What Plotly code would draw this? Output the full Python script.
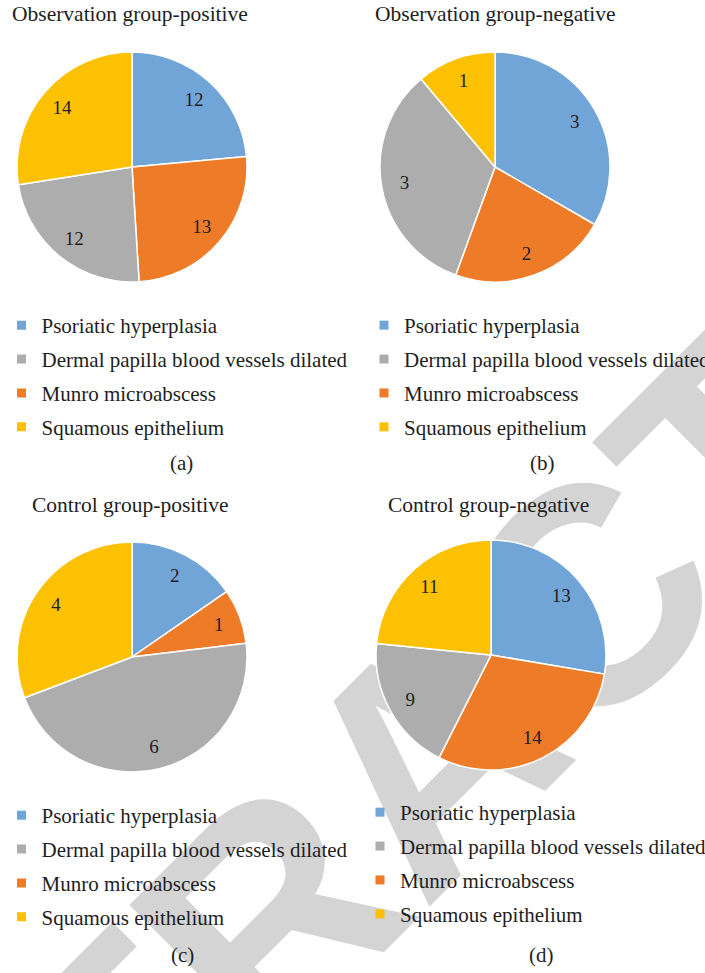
import base64
import plotly.graph_objects as go

# ---------------- data ----------------
slice_order = ["Psoriatic hyperplasia", "Munro microabscess",
               "Dermal papilla blood vessels dilated", "Squamous epithelium"]
legend_order = ["Psoriatic hyperplasia", "Dermal papilla blood vessels dilated",
                "Munro microabscess", "Squamous epithelium"]

obs_positive = [12, 13, 12, 14]
obs_negative = [3, 2, 3, 1]
ctrl_positive = [2, 1, 6, 4]
ctrl_negative = [13, 14, 9, 11]

titles = ["Observation group-positive", "Observation group-negative",
          "Control group-positive", "Control group-negative"]
tags = ["(a)", "(b)", "(c)", "(d)"]

# ---------------- style ----------------
W, H = 705, 973
SERIF = "Liberation Serif, Times New Roman, serif"
TXT = "#1e1e1e"
colors = {
    "Psoriatic hyperplasia": "#72A5D7",
    "Munro microabscess": "#ED7B27",
    "Dermal papilla blood vessels dilated": "#ADADAD",
    "Squamous epithelium": "#FBC102",
}

panels = [
    dict(vals=obs_positive, cx=132, cy=167, lx=1.5, ly=305, tx=10, ty=14, gx=181, gy=463),
    dict(vals=obs_negative, cx=495, cy=167, lx=364, ly=305, tx=373, ty=14, gx=542, gy=463),
    dict(vals=ctrl_positive, cx=132, cy=657, lx=1.5, ly=795, tx=30, ty=505, gx=182, gy=955),
    dict(vals=ctrl_negative, cx=491, cy=655, lx=360, ly=792, tx=386, ty=505, gx=541, gy=955),
]
R = 115

fig = go.Figure()
annotations = []
legend_names = ["legend", "legend2", "legend3", "legend4"]

for i, p in enumerate(panels):
    dom = dict(x=[(p["cx"] - R) / W, (p["cx"] + R) / W],
               y=[1 - (p["cy"] + R) / H, 1 - (p["cy"] - R) / H])
    # filled pie
    fig.add_trace(go.Pie(
        labels=slice_order, values=p["vals"], sort=False, direction="clockwise",
        rotation=0, domain=dom, textinfo="none", showlegend=False,
        marker=dict(colors=[colors[c] for c in slice_order],
                    line=dict(color="white", width=1.5)),
        hoverinfo="label+value",
    ))
    # transparent ring carrying the value labels
    fig.add_trace(go.Pie(
        labels=slice_order, values=p["vals"], sort=False, direction="clockwise",
        rotation=0, domain=dom, hole=0.6, textinfo="value", textposition="inside",
        insidetextorientation="horizontal", showlegend=False,
        textfont=dict(family=SERIF, size=19, color=TXT),
        marker=dict(colors=["rgba(0,0,0,0)"] * 4, line=dict(width=0)),
        hoverinfo="skip",
    ))
    # legend entries
    for c in legend_order:
        fig.add_trace(go.Scatter(
            x=[None], y=[None], mode="markers", name=c,
            marker=dict(symbol="square", size=9, color=colors[c]),
            legend=legend_names[i], legendgroup=f"{i}-{c}",
        ))
    annotations.append(dict(
        text=titles[i], x=p["tx"] / W, y=1 - p["ty"] / H, xref="paper", yref="paper",
        xanchor="left", yanchor="middle", showarrow=False,
        font=dict(family=SERIF, size=21.5, color=TXT)))
    annotations.append(dict(
        text=tags[i], x=p["gx"] / W, y=1 - p["gy"] / H, xref="paper", yref="paper",
        xanchor="center", yanchor="middle", showarrow=False,
        font=dict(family=SERIF, size=21, color=TXT)))

legend_style = dict(font=dict(family=SERIF, size=21, color=TXT), bgcolor="rgba(0,0,0,0)",
                    xanchor="left", yanchor="top", traceorder="grouped",
                    tracegroupgap=3.6, borderwidth=0)
layout_legends = {}
for i, p in enumerate(panels):
    d = dict(legend_style)
    d.update(x=p["lx"] / W, y=1 - p["ly"] / H)
    layout_legends[legend_names[i]] = d

# watermark (drawn beneath everything)
wx, wy, wsize = 427, 757, 310
svg = (f'<svg xmlns="http://www.w3.org/2000/svg" width="{W}" height="{H}" viewBox="0 0 {W} {H}">'
       f'<text x="{wx}" y="{wy}" transform="rotate(-45 {wx} {wy})" '
       f'font-family="Liberation Sans, Arial, sans-serif" font-weight="bold" font-size="{wsize}" '
       f'fill="#d4d4d4" text-anchor="middle" dominant-baseline="central">RETRACTED</text></svg>')
src = "data:image/svg+xml;base64," + base64.b64encode(svg.encode()).decode()

fig.update_layout(
    width=W, height=H,
    margin=dict(l=0, r=0, t=0, b=0, pad=0, autoexpand=False),
    font=dict(family=SERIF, color=TXT),
    paper_bgcolor="white", plot_bgcolor="rgba(0,0,0,0)",
    xaxis=dict(visible=False), yaxis=dict(visible=False),
    annotations=annotations,
    images=[dict(source=src, xref="paper", yref="paper", x=0, y=1, sizex=1, sizey=1,
                 xanchor="left", yanchor="top", sizing="stretch", layer="below")],
    **layout_legends,
)

fig.write_html("out.html", config={"displayModeBar": False},
               post_script="document.body.style.margin='0px';")
